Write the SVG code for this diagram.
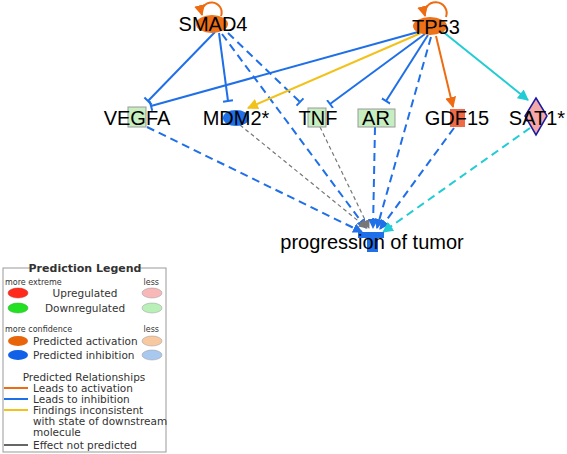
<svg xmlns="http://www.w3.org/2000/svg" width="567" height="454" viewBox="0 0 567 454">
<style>
.lbl{font-family:"Liberation Sans",Arial,sans-serif;font-size:20px;fill:#000;text-anchor:middle}
.lg{font-family:"DejaVu Sans",sans-serif;font-size:10.5px;fill:#333}
.sm{font-family:"DejaVu Sans",sans-serif;font-size:8px;fill:#333}
.e{fill:none;stroke-width:2}
.blue{stroke:#1f6fe8}
.orange{stroke:#ee6b12}
.yellow{stroke:#f2c21a}
.cyan{stroke:#22ccd4}
.gray{stroke:#777;stroke-width:1.2}
.dash{stroke-dasharray:8 5}
.dashs{stroke-dasharray:4 3}
.green{fill:#c6eec0;stroke:#9a9a9a;stroke-width:1}
</style>
<defs>
<marker id="tb" viewBox="0 0 10 10" refX="5" refY="5" markerWidth="10" markerHeight="10" orient="auto" markerUnits="userSpaceOnUse"><path d="M5,0 V10" stroke="#1f6fe8" stroke-width="2"/></marker>
<marker id="ab" viewBox="0 0 10 10" refX="9" refY="5" markerWidth="10" markerHeight="10" orient="auto" markerUnits="userSpaceOnUse"><path d="M0,0 L10,5 L0,10 z" fill="#1f6fe8"/></marker>
<marker id="ao" viewBox="0 0 10 10" refX="9" refY="5" markerWidth="11" markerHeight="11" orient="auto" markerUnits="userSpaceOnUse"><path d="M0,0 L10,5 L0,10 z" fill="#ee6b12"/></marker>
<marker id="ay" viewBox="0 0 10 10" refX="9" refY="5" markerWidth="11" markerHeight="11" orient="auto" markerUnits="userSpaceOnUse"><path d="M0,0 L10,5 L0,10 z" fill="#f2c21a"/></marker>
<marker id="ac" viewBox="0 0 10 10" refX="9" refY="5" markerWidth="11" markerHeight="11" orient="auto" markerUnits="userSpaceOnUse"><path d="M0,0 L10,5 L0,10 z" fill="#22ccd4"/></marker>
<marker id="ag" viewBox="0 0 10 10" refX="9" refY="5" markerWidth="9" markerHeight="9" orient="auto" markerUnits="userSpaceOnUse"><path d="M0,0 L10,5 L0,10 z" fill="#777"/></marker>
</defs>
<rect width="567" height="454" fill="#fff"/>

<g id="connectors">
<path class="e orange" d="M221,16 A10,10 0 1 0 202,15" marker-end="url(#ao)"/>
<path class="e orange" d="M446,17 A11,11 0 1 0 425,16" marker-end="url(#ao)"/>
<path class="e blue" d="M215,32 L148,101" marker-end="url(#tb)"/>
<path class="e blue" d="M219,33 L228,101" marker-end="url(#tb)"/>
<path class="e blue dash" d="M228,33 L300,102" marker-end="url(#tb)"/>
<path class="e blue dash" d="M222,34 L366,228" marker-end="url(#ab)"/>
<path class="e blue" d="M418,32 L151,106" marker-end="url(#tb)"/>
<path class="e yellow" d="M421,33 L248,108" marker-end="url(#ay)"/>
<path class="e blue" d="M425,34 L330,104" marker-end="url(#tb)"/>
<path class="e blue" d="M428,35 L386,101" marker-end="url(#tb)"/>
<path class="e blue dash" d="M431,37 L377,228" marker-end="url(#ab)"/>
<path class="e orange" d="M436,36 L453,107" marker-end="url(#ao)"/>
<path class="e cyan" d="M442,31 L528,100" marker-end="url(#ac)"/>
<path class="e blue dash" d="M147,127 L362,232" marker-end="url(#ab)"/>
<path class="e gray dashs" d="M240,125 L367,228" marker-end="url(#ag)"/>
<path class="e gray dashs" d="M320,127 L369,228" marker-end="url(#ag)"/>
<path class="e blue dash" d="M375,127 L373,228" marker-end="url(#ab)"/>
<path class="e blue dash" d="M454,128 L380,229" marker-end="url(#ab)"/>
<path class="e cyan dash" d="M530,128 L383,232" marker-end="url(#ac)"/>
</g>

<g id="SMAD4"><ellipse cx="212" cy="24" rx="16" ry="9" fill="#ec7118"/><text class="lbl" x="213" y="31">SMAD4</text></g>
<g id="TP53"><ellipse cx="430" cy="26" rx="17" ry="9" fill="#ec7118"/><text class="lbl" x="436" y="34">TP53</text></g>
<g id="VEGFA"><rect class="green" x="128" y="107" width="18" height="20"/><text class="lbl" x="137" y="125">VEGFA</text></g>
<g id="MDM2"><ellipse cx="236" cy="118" rx="13" ry="8" fill="#1f6fe8"/><text class="lbl" x="236" y="125">MDM2*</text></g>
<g id="TNF"><rect class="green" x="308" y="108" width="18" height="19"/><text class="lbl" x="318" y="125">TNF</text></g>
<g id="AR"><rect class="green" x="358" y="109" width="37" height="18"/><text class="lbl" x="376" y="125">AR</text></g>
<g id="GDF15"><rect x="450" y="109" width="15" height="18" fill="#f06a48"/><text class="lbl" x="457" y="125">GDF15</text></g>
<g id="SAT1"><path d="M536,98 L547,116 L536,135 L525,116 z" fill="#f5a8a8" stroke="#1a1aa0" stroke-width="1.5"/><text class="lbl" x="537" y="125">SAT1*</text></g>
<g id="progression"><path d="M358,232 H384 V238 H378 V252 H367 V238 H358 z" fill="#1f6fe8"/><text class="lbl" x="372" y="249">progression of tumor</text></g>

<g id="legend">
<rect x="3" y="268" width="163" height="184" fill="#fff" stroke="#999" stroke-width="1"/>
<rect x="30" y="262" width="110" height="12" fill="#fff"/>
<text x="85" y="272" text-anchor="middle" style="font-family:'DejaVu Sans',sans-serif;font-size:11px;font-weight:bold;fill:#333">Prediction Legend</text>
<text class="sm" x="5" y="285">more extreme</text><text class="sm" x="159" y="285" text-anchor="end">less</text>
<ellipse cx="18" cy="293" rx="10" ry="5" fill="#ff2a1a" stroke="#c33" stroke-width="0.5"/><text class="lg" x="85" y="297" text-anchor="middle">Upregulated</text><ellipse cx="152" cy="293" rx="10" ry="5" fill="#f8b8b8" stroke="#999" stroke-width="0.5"/>
<ellipse cx="18" cy="308" rx="10" ry="5" fill="#22e022" stroke="#3a3" stroke-width="0.5"/><text class="lg" x="85" y="312" text-anchor="middle">Downregulated</text><ellipse cx="152" cy="308" rx="10" ry="5" fill="#b8f0b8" stroke="#999" stroke-width="0.5"/>
<text class="sm" x="5" y="332">more confidence</text><text class="sm" x="159" y="332" text-anchor="end">less</text>
<ellipse cx="18" cy="341" rx="10" ry="5" fill="#e8650a"/><text class="lg" x="33" y="345">Predicted activation</text><ellipse cx="152" cy="341" rx="10" ry="5" fill="#f8c8a0" stroke="#999" stroke-width="0.5"/>
<ellipse cx="18" cy="355" rx="10" ry="5" fill="#1060e8"/><text class="lg" x="33" y="359">Predicted inhibition</text><ellipse cx="152" cy="355" rx="10" ry="5" fill="#a8c8f0" stroke="#999" stroke-width="0.5"/>
<text class="lg" x="84" y="381" text-anchor="middle">Predicted Relationships</text>
<line x1="4" y1="388" x2="28" y2="388" stroke="#ee6b12" stroke-width="2"/><text class="lg" x="33" y="392">Leads to activation</text>
<line x1="4" y1="399" x2="28" y2="399" stroke="#1f6fe8" stroke-width="2"/><text class="lg" x="33" y="403">Leads to inhibition</text>
<line x1="4" y1="410" x2="28" y2="410" stroke="#f2c21a" stroke-width="2"/><text class="lg" x="33" y="414">Findings inconsistent</text>
<text class="lg" x="33" y="425">with state of downstream</text>
<text class="lg" x="33" y="436">molecule</text>
<line x1="4" y1="445" x2="28" y2="445" stroke="#666" stroke-width="2"/><text class="lg" x="33" y="449">Effect not predicted</text>
</g>
</svg>
